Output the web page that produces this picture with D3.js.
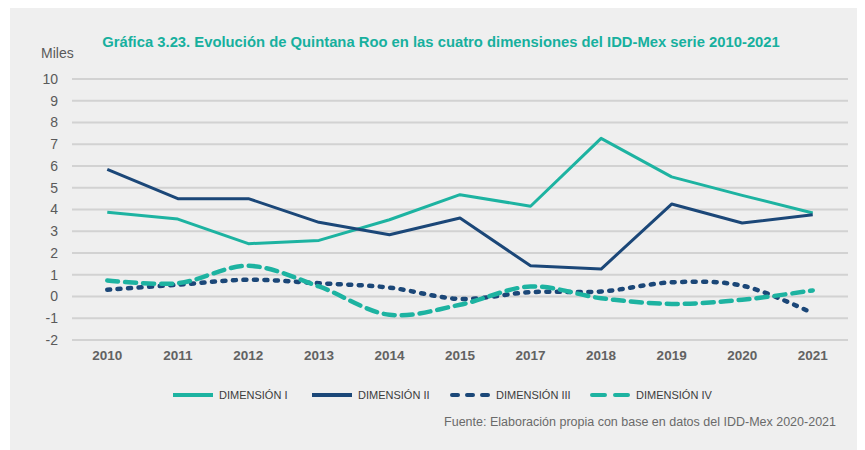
<!DOCTYPE html>
<html>
<head>
<meta charset="utf-8">
<script src="https://cdn.jsdelivr.net/npm/d3@7"></script>
<style>
  body { margin: 0; background: #fff; }
  svg { display: block; }
</style>
</head>
<body>
<div id="chart"></div>
<script>
const years = ["2010", "2011", "2012", "2013", "2014", "2015", "2017", "2018", "2019", "2020", "2021"];
const dim1 = [3.87, 3.56, 2.43, 2.58, 3.53, 4.68, 4.15, 7.27, 5.5, 4.65, 3.84];
const dim2 = [5.84, 4.5, 4.5, 3.41, 2.84, 3.61, 1.41, 1.26, 4.25, 3.38, 3.76];
const dim3 = [0.31, 0.54, 0.77, 0.61, 0.41, -0.11, 0.2, 0.23, 0.65, 0.5, -0.77];
const dim4 = [0.74, 0.61, 1.41, 0.46, -0.84, -0.38, 0.46, -0.08, -0.34, -0.15, 0.28];
const yTicks = [-2, -1, 0, 1, 2, 3, 4, 5, 6, 7, 8, 9, 10];
const seriesNames = ["DIMENSIÓN I", "DIMENSIÓN II", "DIMENSIÓN III", "DIMENSIÓN IV"];

const width = 865, height = 450;
const teal = "#1db3a1", navy = "#1b4778";
const font = "'Liberation Sans', Arial, sans-serif";

const series = [
  { name: seriesNames[0], values: dim1, color: teal, width: 3, dash: null, curve: d3.curveLinear },
  { name: seriesNames[1], values: dim2, color: navy, width: 3, dash: null, curve: d3.curveLinear },
  { name: seriesNames[2], values: dim3, color: navy, width: 4.5, dash: "3,7.5", curve: d3.curveCatmullRom },
  { name: seriesNames[3], values: dim4, color: teal, width: 4.5, dash: "11,7", curve: d3.curveCatmullRom }
];

const svg = d3.select("#chart").append("svg")
    .attr("width", width)
    .attr("height", height);

// gray panel
svg.append("rect")
    .attr("x", 10).attr("y", 8)
    .attr("width", 847).attr("height", height - 8)
    .attr("fill", "#efefef");

const x = d3.scaleBand().domain(years).range([72, 848]);
const y = d3.scaleLinear().domain([-2, 10]).range([340, 79]);

// gridlines
svg.append("g")
  .selectAll("line")
  .data(yTicks)
  .join("line")
    .attr("x1", 72).attr("x2", 848)
    .attr("y1", d => y(d)).attr("y2", d => y(d))
    .attr("stroke", "#d2d2d2")
    .attr("stroke-width", 2);

// y axis labels (plain hyphen for negatives, like the original)
const yAxis = svg.append("g")
    .attr("transform", "translate(58,0)")
    .call(d3.axisLeft(y).tickValues(yTicks).tickFormat(d => String(d)).tickSize(0).tickPadding(0));
yAxis.select(".domain").remove();
yAxis.selectAll("text")
    .attr("font-family", font)
    .attr("font-size", 14)
    .attr("fill", "#5a5a5a");

// x axis labels
const xAxis = svg.append("g")
    .attr("transform", "translate(0,350)")
    .call(d3.axisBottom(x).tickSize(0).tickPadding(0));
xAxis.select(".domain").remove();
xAxis.selectAll("text")
    .attr("font-family", font)
    .attr("font-size", 13.5)
    .attr("font-weight", "bold")
    .attr("fill", "#626262");

svg.append("text")
    .attr("x", 41).attr("y", 58)
    .attr("font-family", font)
    .attr("font-size", 14)
    .attr("fill", "#5a5a5a")
    .text("Miles");

// lines
series.forEach(s => {
  const line = d3.line()
      .x((d, i) => x(years[i]) + x.bandwidth() / 2)
      .y(d => y(d))
      .curve(s.curve);
  svg.append("path")
      .datum(s.values)
      .attr("fill", "none")
      .attr("stroke", s.color)
      .attr("stroke-width", s.width)
      .attr("stroke-dasharray", s.dash)
      .attr("stroke-linecap", s.dash ? "round" : "butt")
      .attr("stroke-linejoin", "round")
      .attr("d", line);
});

// title
svg.append("text")
    .attr("x", 441).attr("y", 47)
    .attr("text-anchor", "middle")
    .attr("font-family", font)
    .attr("font-size", 14.8)
    .attr("font-weight", "bold")
    .attr("fill", "#17b09e")
    .text("Gráfica 3.23. Evolución de Quintana Roo en las cuatro dimensiones del IDD-Mex serie 2010-2021");

// legend
const legendX = [173, 312, 450, 590];
const legend = svg.append("g");
series.forEach((s, i) => {
  const g = legend.append("g").attr("transform", `translate(${legendX[i]},395)`);
  g.append("line")
      .attr("x1", s.dash ? 2 : 0).attr("x2", s.dash ? 38 : 40)
      .attr("y1", 0).attr("y2", 0)
      .attr("stroke", s.color)
      .attr("stroke-width", 4)
      .attr("stroke-dasharray", s.dash ? (i === 2 ? "6,9" : "13,10") : null)
      .attr("stroke-linecap", s.dash ? "round" : "butt");
  g.append("text")
      .attr("x", 46).attr("y", 4)
      .attr("font-family", font)
      .attr("font-size", 11)
      .attr("fill", "#3c3c3c")
      .text(s.name);
});

// source
svg.append("text")
    .attr("x", 836).attr("y", 426)
    .attr("text-anchor", "end")
    .attr("font-family", font)
    .attr("font-size", 12.5)
    .attr("fill", "#6a6a6a")
    .text("Fuente: Elaboración propia con base en datos del IDD-Mex 2020-2021");
</script>
</body>
</html>
